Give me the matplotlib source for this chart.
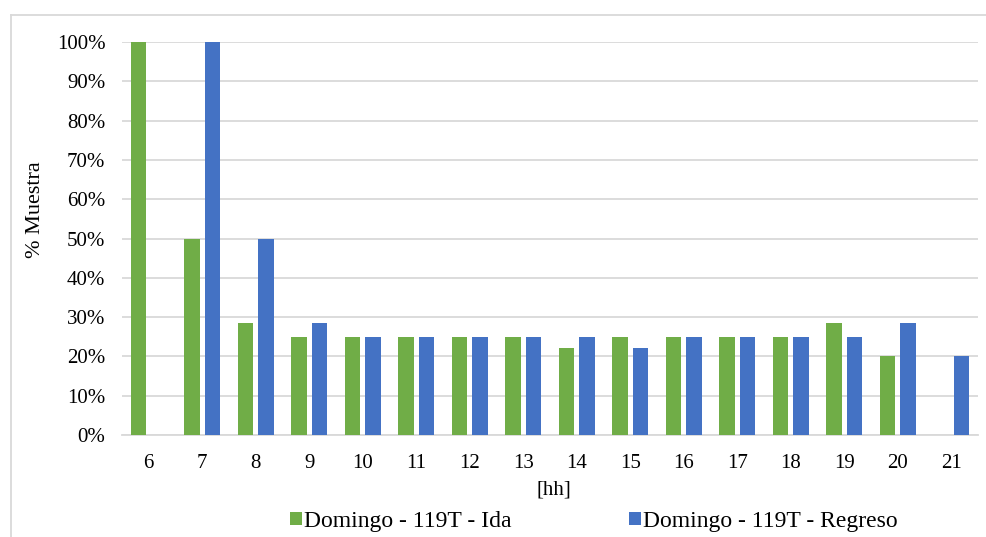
import matplotlib.pyplot as plt
import numpy as np
from matplotlib.lines import Line2D

# Datos
horas = ['6', '7', '8', '9', '10', '11', '12', '13', '14', '15', '16', '17', '18', '19', '20', '21']
ida = [100, 50, 28.6, 25, 25, 25, 25, 25, 22.2, 25, 25, 25, 25, 28.6, 20, 0]
regreso = [0, 100, 50, 28.6, 25, 25, 25, 25, 25, 22.2, 25, 25, 25, 25, 28.6, 20]

plt.rcParams['font.family'] = ['Liberation Serif', 'DejaVu Serif']

W, H = 987, 537
fig = plt.figure(figsize=(W / 100, H / 100), dpi=100)
ax = fig.add_axes([122 / W, 1 - 435 / H, (978 - 122) / W, (435 - 42) / H])

x = np.arange(len(horas))
ancho = 0.29
ax.bar(x - 0.19, np.array(ida) / 100, ancho, color='#70AD47', label='Domingo - 119T - Ida', zorder=3)
ax.bar(x + 0.19, np.array(regreso) / 100, ancho, color='#4472C4', label='Domingo - 119T - Regreso', zorder=3)

ax.set_xlim(-0.5, len(horas) - 0.5)
ax.set_ylim(0, 1)
ax.set_yticks(np.arange(0, 1.01, 0.1))
ax.set_yticklabels([f'{int(round(v * 100))}%' for v in np.arange(0, 1.01, 0.1)])
ax.set_xticks(x)
ax.set_xticklabels(horas)
ax.tick_params(length=0, labelsize=15, colors='#000000')
ax.tick_params(axis='x', pad=14)
ax.tick_params(axis='y', pad=12)

ax.grid(axis='y', color='#d9d9d9', linewidth=1.3, zorder=0)
for s in ['top', 'right', 'left']:
    ax.spines[s].set_visible(False)
ax.spines['bottom'].set_color('#d9d9d9')
ax.spines['bottom'].set_linewidth(1.3)

fig.text(35 / W, 1 - 210 / H, '% Muestra', rotation=90, ha='center', va='center', fontsize=16)
fig.text(554 / W, 1 - 490 / H, '[hh]', ha='center', va='center', fontsize=15)

leg = fig.legend(loc='center', bbox_to_anchor=(594 / W, 1 - 521 / H), ncol=2, frameon=False,
                 prop={'family': 'Liberation Serif', 'size': 17},
                 handlelength=0.47, handleheight=0.47, handletextpad=0.1,
                 columnspacing=5.0)

# marco del grafico
fig.add_artist(Line2D([11 / W, 11 / W], [0, 1 - 15 / H], transform=fig.transFigure, color='#d9d9d9', lw=1.3))
fig.add_artist(Line2D([11 / W, 1], [1 - 15 / H, 1 - 15 / H], transform=fig.transFigure, color='#d9d9d9', lw=1.3))

fig.savefig('out.png', dpi=100)
